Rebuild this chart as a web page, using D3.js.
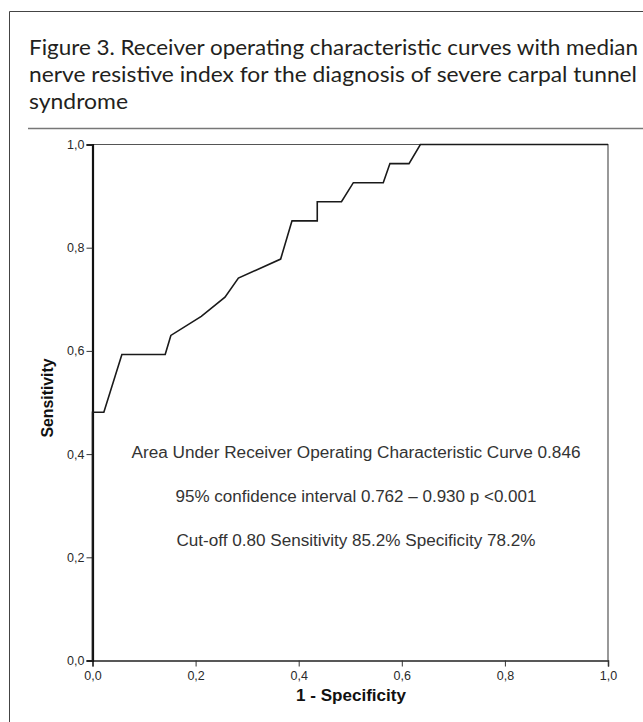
<!DOCTYPE html>
<html>
<head>
<meta charset="utf-8">
<script src="https://cdn.jsdelivr.net/npm/d3@7"></script>
<style>
  body { margin: 0; background: #fff; }
  svg { display: block; }
  .tick-label { font-family: "Liberation Sans", Arial, sans-serif; font-size: 12.5px; fill: #2a2a2a; }
  .axis-title { font-family: "Liberation Sans", Arial, sans-serif; font-size: 16px; font-weight: bold; fill: #111; }
  .note { font-family: "Liberation Sans", Arial, sans-serif; font-size: 16px; fill: #333; }
  .fig-title { font-family: Lato, "Open Sans", sans-serif; font-size: 22px; fill: #231f20; }
</style>
</head>
<body>
<div id="container"></div>
<script>
// ROC curve points
var fpr = [0, 0, 0.022, 0.057, 0.141, 0.152, 0.211, 0.257, 0.283, 0.365, 0.387, 0.436, 0.436, 0.483, 0.506, 0.564, 0.577, 0.614, 0.636, 1];
var tpr = [0, 0.481, 0.481, 0.593, 0.593, 0.630, 0.667, 0.704, 0.741, 0.778, 0.852, 0.852, 0.889, 0.889, 0.926, 0.926, 0.963, 0.963, 1, 1];

var tickValues = [0, 0.2, 0.4, 0.6, 0.8, 1.0];

var titleLines = [
  'Figure 3. Receiver operating characteristic curves with median',
  'nerve resistive index for the diagnosis of severe carpal tunnel',
  'syndrome'
];
var titleWidths = [609, 608, 99];

var notes = [
  'Area Under Receiver Operating Characteristic Curve 0.846',
  '95% confidence interval 0.762 \u2013 0.930 p <0.001',
  'Cut-off 0.80 Sensitivity 85.2% Specificity 78.2%'
];
var noteWidths = [449, 361, 359];

var width = 643, height = 722;
var margin = {left: 92.5, top: 144.5, right: 643 - 608, bottom: 722 - 660.5};

var svg = d3.select('#container').append('svg')
  .attr('width', width)
  .attr('height', height);

// outer frame and separator
svg.append('path')
  .attr('d', d3.line()([[9.5, 722], [9.5, 11.5], [643, 11.5]]))
  .attr('stroke', '#444')
  .attr('stroke-width', 1)
  .attr('fill', 'none');

svg.append('line')
  .attr('x1', 28).attr('x2', 643)
  .attr('y1', 128.5).attr('y2', 128.5)
  .attr('stroke', '#777')
  .attr('stroke-width', 1.5);

svg.selectAll('.fig-title')
  .data(titleLines)
  .enter()
  .append('text')
  .attr('class', 'fig-title')
  .attr('x', 29)
  .attr('y', (d, i) => 55 + i * 27)
  .attr('textLength', (d, i) => titleWidths[i])
  .attr('lengthAdjust', 'spacingAndGlyphs')
  .text(d => d);

var x = d3.scaleLinear().domain([0, 1]).range([margin.left, width - margin.right]);
var y = d3.scaleLinear().domain([0, 1]).range([height - margin.bottom, margin.top]);

var fmt = d => d3.format('.1f')(d).replace('.', ',');

// plot frame (top and right)
svg.append('path')
  .attr('d', d3.line()([[x(0), y(1)], [x(1), y(1)], [x(1), y(0)]]))
  .attr('stroke', '#555')
  .attr('stroke-width', 1.2)
  .attr('fill', 'none');

// x axis
var xAxis = svg.append('g')
  .attr('transform', 'translate(0,' + y(0) + ')')
  .call(d3.axisBottom(x).tickValues(tickValues).tickSize(6).tickFormat(fmt));
xAxis.select('.domain').attr('stroke', '#222').attr('stroke-width', 1.5);
xAxis.selectAll('.tick line').attr('stroke', '#333');
xAxis.selectAll('.tick text').attr('class', 'tick-label').attr('y', 10).attr('dy', '0.75em');

// y axis
var yAxis = svg.append('g')
  .attr('transform', 'translate(' + x(0) + ',0)')
  .call(d3.axisLeft(y).tickValues(tickValues).tickSize(6).tickFormat(fmt));
yAxis.select('.domain').attr('stroke', '#111').attr('stroke-width', 2.2);
yAxis.selectAll('.tick line').attr('stroke', '#333');
yAxis.selectAll('.tick text').attr('class', 'tick-label').attr('x', -8);

// ROC curve
var pts = fpr.map((d, i) => [d, tpr[i]]);
svg.append('path')
  .datum(pts)
  .attr('d', d3.line().x(d => x(d[0])).y(d => y(d[1])))
  .attr('stroke', '#1a1a1a')
  .attr('stroke-width', 1.6)
  .attr('fill', 'none');

// axis titles
svg.append('text')
  .attr('class', 'axis-title')
  .attr('x', 351)
  .attr('y', 701)
  .attr('textLength', 110)
  .attr('lengthAdjust', 'spacingAndGlyphs')
  .style('text-anchor', 'middle')
  .text('1 - Specificity');

svg.append('text')
  .attr('class', 'axis-title')
  .attr('transform', 'translate(53,398) rotate(-90)')
  .attr('textLength', 79)
  .attr('lengthAdjust', 'spacingAndGlyphs')
  .style('text-anchor', 'middle')
  .text('Sensitivity');

// annotation
svg.selectAll('.note')
  .data(notes)
  .enter()
  .append('text')
  .attr('class', 'note')
  .attr('x', 356)
  .attr('y', (d, i) => 458 + i * 44)
  .attr('textLength', (d, i) => noteWidths[i])
  .attr('lengthAdjust', 'spacingAndGlyphs')
  .style('text-anchor', 'middle')
  .text(d => d);
</script>
</body>
</html>
